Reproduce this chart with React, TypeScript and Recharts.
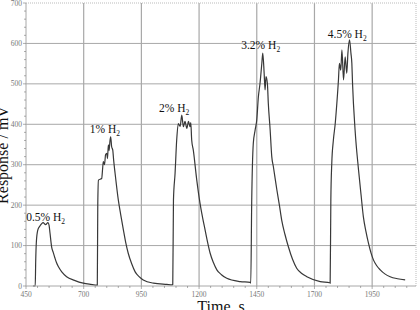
import { Line, LineChart, ReferenceDot, ReferenceLine, XAxis, YAxis } from 'recharts'

// hydrogen pulses, time in seconds, signal in axis units
const pulse05Time = [480, 490, 492, 495, 501, 510, 524, 535, 545, 550, 554, 561, 568, 575, 582, 590, 605, 626, 660, 698, 730, 759]
const pulse05Signal = [0, 0, 60, 110, 138, 148, 157, 152, 157, 150, 131, 97, 83, 70, 58, 48, 35, 23, 14, 7, 4, 2]

const pulse1Time = [761, 764, 778, 782, 785, 790, 795, 800, 803, 807, 810, 814, 817, 821, 826, 830, 836, 850, 860, 872, 882, 893, 908, 923, 940, 958, 1002, 1060, 1084]
const pulse1Signal = [200, 262, 266, 290, 308, 300, 325, 328, 315, 349, 335, 360, 369, 345, 336, 310, 279, 213, 178, 139, 108, 81, 55, 35, 23, 15, 7, 4, 3]

const pulse2Time = [1086, 1089, 1096, 1103, 1110, 1118, 1125, 1132, 1139, 1147, 1154, 1161, 1164, 1168, 1175, 1190, 1204, 1215, 1226, 1237, 1248, 1262, 1277, 1297, 1320, 1378, 1421]
const pulse2Signal = [4, 213, 279, 361, 402, 395, 423, 394, 407, 390, 407, 394, 404, 361, 336, 262, 205, 170, 139, 108, 81, 58, 40, 28, 19, 11, 9]

const pulse32Time = [1424, 1428, 1435, 1443, 1450, 1457, 1464, 1472, 1476, 1482, 1486, 1490, 1496, 1500, 1508, 1515, 1522, 1537, 1548, 1558, 1572, 1587, 1605, 1623, 1645, 1667, 1725, 1766]
const pulse32Signal = [7, 205, 353, 386, 411, 468, 501, 551, 576, 526, 485, 518, 501, 452, 386, 320, 295, 238, 200, 163, 128, 97, 66, 44, 31, 23, 11, 8]

const pulse45Time = [1768, 1771, 1775, 1782, 1790, 1797, 1804, 1808, 1814, 1819, 1826, 1833, 1840, 1845, 1852, 1858, 1862, 1865, 1876, 1891, 1902, 1912, 1923, 1934, 1945, 1956, 1970, 1985, 2005, 2028, 2060, 2093]
const pulse45Signal = [7, 213, 303, 361, 402, 452, 510, 551, 534, 584, 510, 567, 526, 576, 609, 576, 551, 501, 386, 287, 225, 171, 135, 106, 82, 64, 50, 40, 30, 23, 18, 15]

const xMajorTicks = [450, 700, 950, 1200, 1450, 1700, 1950]
const xMinorTicks = [450, 500, 550, 600, 650, 700, 750, 800, 850, 900, 950, 1000, 1050, 1100, 1150, 1200, 1250, 1300, 1350, 1400, 1450, 1500, 1550, 1600, 1650, 1700, 1750, 1800, 1850, 1900, 1950, 2000, 2050, 2100]
const yMajorTicks = [0, 100, 200, 300, 400, 500, 600, 700]
const yMinorTicks = [0, 20, 40, 60, 80, 100, 120, 140, 160, 180, 200, 220, 240, 260, 280, 300, 320, 340, 360, 380, 400, 420, 440, 460, 480, 500, 520, 540, 560, 580, 600, 620, 640, 660, 680, 700]

// concentration labels, anchored near each peak
const pulseLabels = ['0.5% H', '1% H', '2% H', '3.2% H', '4.5% H']
const labelTime = [535, 792, 1092, 1467, 1842]
const labelSignal = [160, 378, 430, 586, 613]

const times = [...pulse05Time, ...pulse1Time, ...pulse2Time, ...pulse32Time, ...pulse45Time]
const signals = [...pulse05Signal, ...pulse1Signal, ...pulse2Signal, ...pulse32Signal, ...pulse45Signal]
const data = times.map((t, i) => ({ t, v: signals[i] }))

const serif = '"Liberation Serif", "Times New Roman", serif'
const gridColor = '#a8a8a8'
const tickColor = '#777'

function XTick(props: any) {
  const { x, y, payload } = props
  const major = xMajorTicks.includes(payload.value)
  const axisY = y - 5
  return (
    <g>
      <line x1={x} x2={x} y1={axisY} y2={axisY + (major ? 3 : 2)} stroke={tickColor} strokeWidth={0.6} />
      {major && (
        <text x={x} y={axisY + 11} textAnchor="middle" fontSize={7.5} fontFamily={serif} fill={tickColor}>
          {payload.value}
        </text>
      )}
    </g>
  )
}

function YTick(props: any) {
  const { x, y, payload } = props
  const major = yMajorTicks.includes(payload.value)
  const axisX = x + 4
  return (
    <g>
      <line x1={axisX - (major ? 3 : 2)} x2={axisX} y1={y} y2={y} stroke={tickColor} strokeWidth={0.6} />
      {major && (
        <text x={axisX - 4} y={y + 2.5} textAnchor="end" fontSize={7.5} fontFamily={serif} fill={tickColor}>
          {payload.value}
        </text>
      )}
    </g>
  )
}

function PulseLabel({ cx, cy, text }: { cx?: number; cy?: number; text: string }) {
  return (
    <text x={cx} y={cy} textAnchor="middle" fontSize={11.5} fontFamily={serif} fill="#111">
      <tspan>{text}</tspan>
      <tspan dy={3} fontSize={7.5}>2</tspan>
    </text>
  )
}

export default function App() {
  return (
    <div style={{ position: 'absolute', left: 0, top: 0, width: 420, height: 310, background: '#fff', overflow: 'hidden' }}>
      <LineChart width={420} height={310} data={data} margin={{ top: 3, right: 4, left: 0, bottom: 0 }}>
        <XAxis
          dataKey="t"
          type="number"
          domain={[450, 2140]}
          ticks={xMinorTicks}
          interval={0}
          height={24}
          tickSize={3}
          tickMargin={2}
          tickLine={false}
          axisLine={{ stroke: gridColor }}
          tick={<XTick />}
          label={{ value: 'Time, s', position: 'bottom', offset: -9, fontSize: 16, fontFamily: serif, fill: '#111' }}
        />
        <YAxis
          type="number"
          domain={[0, 700]}
          ticks={yMinorTicks}
          interval={0}
          width={26}
          tickSize={3}
          tickMargin={1}
          tickLine={false}
          axisLine={{ stroke: gridColor }}
          tick={<YTick />}
          label={{
            content: () => (
              <text transform="translate(8,155) rotate(-90)" textAnchor="middle" fontSize={16} fontFamily={serif} fill="#111">
                Response / mV
              </text>
            ),
          }}
        />
        {yMajorTicks.slice(1, -1).map((v) => (
          <ReferenceLine key={`h${v}`} y={v} stroke={gridColor} strokeWidth={1} />
        ))}
        {xMajorTicks.slice(1).map((t) => (
          <ReferenceLine key={`v${t}`} x={t} stroke={gridColor} strokeWidth={1.2} />
        ))}
        <ReferenceLine y={700} stroke="#bbb" strokeDasharray="1 1" />
        <ReferenceLine x={2140} stroke="#bbb" strokeDasharray="1 1" />
        <Line
          type="monotone"
          dataKey="v"
          stroke="#383838"
          strokeWidth={1.2}
          dot={false}
          isAnimationActive={false}
        />
        {pulseLabels.map((txt, i) => (
          <ReferenceDot
            key={txt}
            x={labelTime[i]}
            y={labelSignal[i]}
            r={0}
            shape={(p: any) => <PulseLabel cx={p.cx} cy={p.cy} text={txt} />}
          />
        ))}
      </LineChart>
    </div>
  )
}
